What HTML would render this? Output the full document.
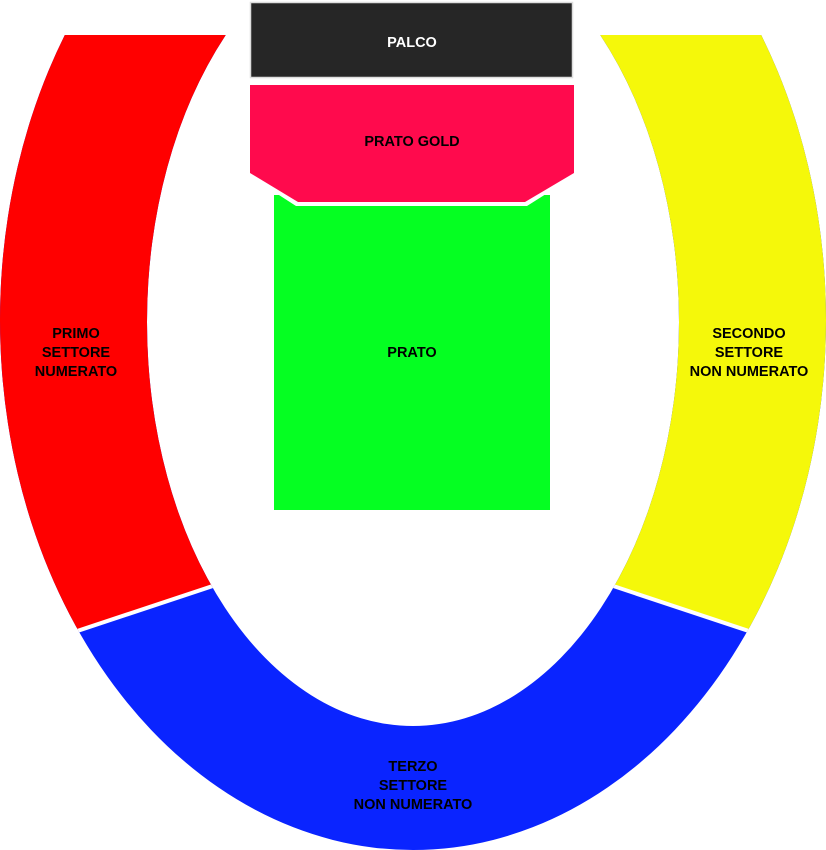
<!DOCTYPE html>
<html><head><meta charset="utf-8"><style>
html,body{margin:0;padding:0;background:#fff;}
svg{display:block;}
text{font-family:"Liberation Sans",sans-serif;font-weight:bold;font-size:14.5px;text-anchor:middle;}
</style></head><body>
<svg width="826" height="850" viewBox="0 0 826 850" xmlns="http://www.w3.org/2000/svg">
<defs>
<clipPath id="ring">
<path clip-rule="evenodd" fill-rule="evenodd" d="M0,320 A413,530 0 1,0 826,320 A413,530 0 1,0 0,320 Z M147,322 A266,404 0 1,0 679,322 A266,404 0 1,0 147,322 Z"/>
</clipPath>
<clipPath id="top"><rect x="0" y="35" width="826" height="815"/></clipPath>
</defs>
<g clip-path="url(#top)">
<g clip-path="url(#ring)">
<rect x="0" y="0" width="826" height="850" fill="#0a24ff"/>
<polygon points="-10,35 413,35 413,519 -10,660" fill="#ff0000"/>
<polygon points="413,35 836,35 836,660 413,519" fill="#f5f80a"/>
<line x1="-10" y1="660" x2="300" y2="557" stroke="#fff" stroke-width="4"/>
<line x1="836" y1="660" x2="526" y2="557" stroke="#fff" stroke-width="4"/>
</g>
</g>
<rect x="250.5" y="2.5" width="322" height="75" fill="#262626" stroke="#ddd" stroke-width="1.5"/>
<polygon points="274,195 550,195 550,510 274,510" fill="#05ff22"/>
<polygon points="248,85 576,85 576,175 527,206 296,206 248,175" fill="#fff"/>
<polygon points="250,85 574,85 574,173 525,202 298,202 250,173" fill="#ff0a4d"/>
<text x="412" y="47" fill="#fff">PALCO</text>
<text x="412" y="146" fill="#000">PRATO GOLD</text>
<text x="412" y="357" fill="#000">PRATO</text>
<text x="76" y="338" fill="#000">PRIMO</text>
<text x="76" y="357" fill="#000">SETTORE</text>
<text x="76" y="376" fill="#000">NUMERATO</text>
<text x="749" y="338" fill="#000">SECONDO</text>
<text x="749" y="357" fill="#000">SETTORE</text>
<text x="749" y="376" fill="#000">NON NUMERATO</text>
<text x="413" y="771" fill="#000">TERZO</text>
<text x="413" y="790" fill="#000">SETTORE</text>
<text x="413" y="809" fill="#000">NON NUMERATO</text>
</svg>
</body></html>
